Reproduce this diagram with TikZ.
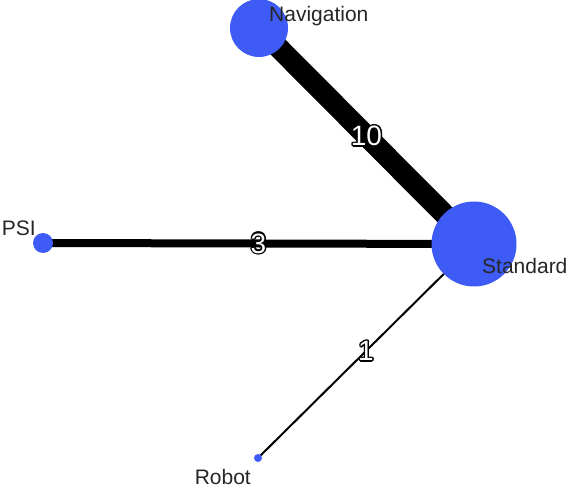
\documentclass[tikz,border=0pt]{standalone}
\usepackage{fontspec}
\setmainfont{Liberation Sans}
\usetikzlibrary{calc}
\definecolor{nodeblue}{RGB}{62,92,245}
\tikzset{
  vert/.style={circle,fill=nodeblue,draw=none,inner sep=0pt,minimum size=#1},
  link/.style={draw=black,line width=#1,line cap=butt},
  vlabel/.style={inner sep=0pt,font=\fontsize{21}{25}\selectfont,text=black!85},
  elabel/.style={inner sep=0pt,font=\fontsize{28}{32}\selectfont},
}
\newcommand{\outlinedlabel}[3]{%
  \foreach \ang in {0,30,...,330}{
    \node[elabel,text=black] at ($(#2)+(\ang:1.4)$) {#3};
  }
  \node[elabel,text=white] (#1) at (#2) {#3};
}
\begin{document}
\begin{tikzpicture}[x=1pt,y=1pt]
\useasboundingbox (0,0) rectangle (568,488);
% positions
\coordinate (pnav) at (259,460);
\coordinate (pstd) at (474,244);
\coordinate (ppsi) at (43,245);
\coordinate (prob) at (258,30);
% edges
\draw[link=21pt] (pnav) -- (pstd) coordinate[pos=0.5] (m1);
\draw[link=8pt] (ppsi) -- (pstd) coordinate[pos=0.5] (m2);
\draw[link=2pt] (prob) -- (pstd) coordinate[pos=0.5] (m3);
% vertices
\node[vert=58pt] (nav) at (pnav) {};
\node[vert=85pt] (std) at (pstd) {};
\node[vert=20pt] (psi) at (ppsi) {};
\node[vert=8pt] (rob) at (prob) {};
% vertex labels
\node[vlabel,anchor=base west] (lnav) at (269,466) {Navigation};
\node[vlabel,anchor=base west] (lstd) at (482,214) {Standard};
\node[vlabel,anchor=base east] (lpsi) at (36,252) {PSI};
\node[vlabel,anchor=base east] (lrob) at (251,4) {Robot};
% edge labels
\outlinedlabel{e1}{m1}{10}
\outlinedlabel{e2}{m2}{3}
\outlinedlabel{e3}{m3}{1}
\end{tikzpicture}
\end{document}
